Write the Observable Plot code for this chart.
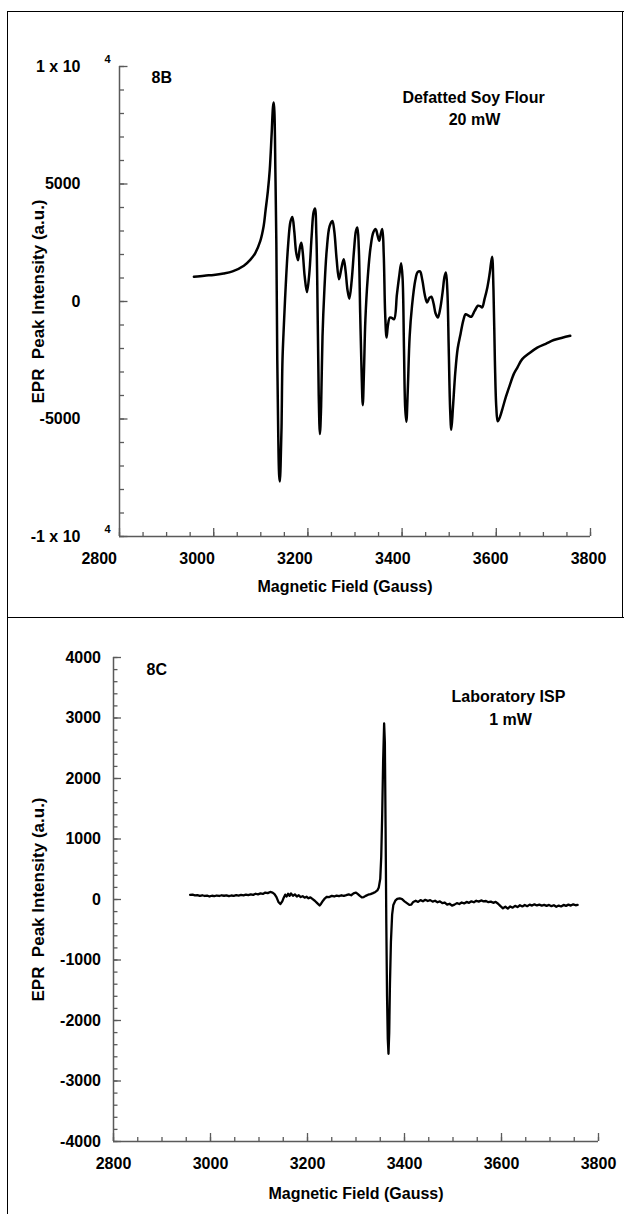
<!DOCTYPE html>
<html><head><meta charset="utf-8">
<script src="https://cdn.jsdelivr.net/npm/d3@7"></script>
<script src="https://cdn.jsdelivr.net/npm/@observablehq/plot@0.6"></script>
<style>
body{margin:0;background:#fff;}
#wrap{position:relative;width:624px;height:1214px;overflow:hidden;background:#fff;}
.line{position:absolute;background:#000;}
svg{position:absolute;left:0;}
</style></head><body><div id="wrap"></div>
<script>
// ---- Panel 8B: Defatted Soy Flour, 20 mW (field G, intensity a.u.)
const fieldB = [2958,2980,3000,3021,3040,3064,3078,3088,3099,3106,3110,3115,3119,3123,3126,3127.5,3129,3131,3133,3135,3137,3139,3140.5,3142,3144,3146,3149,3153,3158,3163,3167,3171,3175,3179,3183,3186,3189,3193,3198,3203,3208,3212,3215,3218,3221,3223,3225.5,3228,3231,3235,3240,3246,3252,3256,3261,3266,3271,3276,3280,3284,3288,3293,3298,3302,3305,3308,3311,3314,3316.5,3319,3322,3327,3333,3339,3344,3348,3351.5,3355,3358,3361,3364,3367,3370,3374,3378,3383,3389,3394,3398,3401,3404,3406.5,3409,3412,3416,3421,3428,3433,3438,3443,3448,3453,3458,3462,3467,3471,3476,3481,3486,3490,3493,3496,3499,3502,3504.5,3508,3513,3518,3524,3530,3535,3541,3547,3554,3561,3566,3570,3575,3581,3586,3591,3594,3597,3600,3603,3608,3614,3620,3628,3637,3645,3655,3670,3687,3705,3722,3740,3757];
const intensityB = [1050,1100,1130,1190,1280,1520,1780,2050,2580,3200,3860,4700,5600,7120,8300,8470,8000,5500,2500,-2500,-5600,-7400,-7660,-7000,-5360,-2520,-1000,700,2400,3400,3600,3000,2100,1760,2300,2500,2100,1100,400,1200,2800,3800,3960,2800,-1000,-4000,-5640,-4500,-1500,500,2200,3200,3430,3000,1800,950,1400,1800,1300,500,120,900,2200,3000,3150,2300,-500,-3000,-4410,-3000,-800,1000,2300,2950,3080,2800,2580,2900,3080,2000,-500,-1530,-1000,-680,-700,-750,300,1100,1630,1000,-2000,-4500,-5120,-3800,-1500,-200,900,1250,1280,900,300,-40,150,200,-100,-500,-680,-300,400,1050,1235,500,-2000,-4600,-5460,-4500,-3000,-2000,-1390,-800,-540,-600,-650,-400,-180,-200,-250,100,600,1200,1900,500,-2520,-4500,-5100,-4900,-4500,-4080,-3600,-3090,-2800,-2450,-2200,-1960,-1800,-1640,-1540,-1460];

// ---- Panel 8C: Laboratory ISP, 1 mW
const fieldC = [2958,2963,2968,2973,2978,2983,2988,2993,2998,3003,3008,3013,3018,3023,3028,3033,3038,3043,3048,3053,3058,3063,3068,3073,3078,3083,3088,3093,3098,3103,3108,3113,3118,3123,3128,3132,3136,3140,3144,3148,3151,3154,3157,3160,3163,3166,3170,3174,3178,3182,3186,3190,3194,3198,3202,3206,3210,3215,3220,3225,3228,3232,3236,3240,3245,3250,3255,3260,3265,3270,3275,3280,3285,3290,3295,3300,3304,3308,3312,3316,3320,3325,3330,3335,3340,3344,3347,3350,3352,3354,3356,3358,3359.5,3361,3362.5,3364,3365.5,3367,3368.5,3370,3372,3374.5,3377,3381,3385,3390,3395,3400,3405,3410,3414,3418,3423,3428,3433,3438,3443,3448,3453,3458,3463,3468,3473,3478,3483,3488,3493,3498,3503,3508,3513,3518,3523,3528,3533,3538,3543,3548,3553,3558,3563,3568,3573,3578,3583,3588,3593,3598,3603,3608,3613,3618,3623,3628,3633,3638,3643,3648,3653,3658,3663,3668,3673,3678,3683,3688,3693,3698,3703,3708,3713,3718,3723,3728,3733,3738,3743,3748,3753,3757];
const intensityC = [75,80,68,72,60,70,58,65,50,62,55,66,58,70,62,68,55,66,60,72,64,75,68,80,72,85,76,95,85,100,92,115,105,125,115,90,40,-40,-75,-30,30,80,50,95,60,100,60,85,50,70,40,55,30,45,20,35,10,-20,-60,-100,-70,-20,20,45,40,60,50,65,55,70,60,72,85,70,100,115,90,60,35,40,60,80,90,105,125,150,200,340,700,1400,2300,2910,2600,1200,-400,-1600,-2300,-2550,-2200,-1400,-700,-250,-90,-20,10,20,5,-30,-60,-90,-85,-40,-20,-40,-10,-30,-5,-25,-10,-35,-20,-45,-30,-60,-50,-85,-70,-100,-85,-60,-75,-50,-65,-40,-55,-30,-45,-20,-35,-15,-30,-25,-45,-35,-55,-40,-70,-110,-145,-120,-150,-115,-135,-105,-125,-95,-115,-90,-110,-85,-100,-80,-98,-85,-100,-88,-105,-90,-110,-95,-120,-100,-115,-90,-105,-85,-100,-80,-95,-90];

// ---- Ticks and labels
const xTickLabels = [2800, 3000, 3200, 3400, 3600, 3800];
const yTicksB = [10000, 5000, 0, -5000, -10000];
const yTickLabelsB = ["1 x 10", "5000", "0", "-5000", "-1 x 10"];
const yExpB = [10000, -10000];
const yTicksC = [4000, 3000, 2000, 1000, 0, -1000, -2000, -3000, -4000];
const yTickLabelsC = ["4000", "3000", "2000", "1000", "0", "-1000", "-2000", "-3000", "-4000"];
const xTitle = "Magnetic Field (Gauss)";
const yTitle = "EPR \u00a0Peak Intensity (a.u.)";

const tableB = fieldB.map((g, i) => ({G: g, I: intensityB[i]}));
const tableC = fieldC.map((g, i) => ({G: g, I: intensityC[i]}));

const FONT = "'Liberation Sans', Arial, Helvetica, sans-serif";
const fnt = {fontSize: 16, fontWeight: "bold", fill: "black"};
const note = {...fnt, frameAnchor: "top-left", lineAnchor: "middle"};
const yTitleStyle = {frameAnchor: "left", lineAnchor: "middle", textAnchor: "middle", rotate: -90, fontSize: 17, fontWeight: "bold", fill: "black"};
const gray = "#5a5a5a";
const tk = {stroke: gray, strokeWidth: 1.3, tickFormat: () => "", label: null};

const wrap = document.getElementById("wrap");
function hline(x, y, w, h) {
  const d = document.createElement("div");
  d.className = "line";
  Object.assign(d.style, {left: x + "px", top: y + "px", width: w + "px", height: h + "px"});
  wrap.appendChild(d);
}

// Panel 8B
const pB = Plot.plot({
  width: 624, height: 617,
  marginLeft: 119, marginRight: 34, marginTop: 66, marginBottom: 81,
  x: {domain: [2800, 3800]},
  y: {domain: [-10000, 10000]},
  style: {fontFamily: FONT, background: "transparent", overflow: "visible"},
  marks: [
    Plot.axisX(d3.range(2800, 3801, 50), {...tk, tickSize: -4}),
    Plot.axisX(d3.range(2800, 3801, 200), {...tk, tickSize: -8}),
    Plot.axisY(d3.range(-10000, 10001, 1000), {...tk, tickSize: -5}),
    Plot.axisY(d3.range(-10000, 10001, 5000), {...tk, tickSize: -8.5}),
    Plot.axisY(yTicksB, {tickSize: 0, tickPadding: 39, tickFormat: d => yTickLabelsB[yTicksB.indexOf(d)], label: null, ...fnt}),
    ...xTickLabels.map(v => Plot.axisX([v], {tickSize: 0, tickPadding: 16, dx: -20.3 + (v - 2800) * 0.0183, tickFormat: d => String(d), label: null, ...fnt})),
    Plot.text(yExpB, {y: d => d, text: () => "4", frameAnchor: "left", lineAnchor: "middle", dx: -15, dy: -7, fontSize: 11, fontWeight: "bold"}),
    Plot.ruleX([2800], {stroke: gray, strokeWidth: 1.5}),
    Plot.ruleY([-10000], {stroke: gray, strokeWidth: 1.5}),
    Plot.line(tableB, {x: "G", y: "I", stroke: "black", strokeWidth: 2.5, curve: "catmull-rom"}),
    Plot.text([xTitle], {frameAnchor: "bottom", lineAnchor: "middle", dy: 50, dx: -10, ...fnt}),
    Plot.text([yTitle], {...yTitleStyle, dx: -81}),
    Plot.text(["8B"], {...note, dx: 32, dy: 11, textAnchor: "start"}),
    Plot.text(["Defatted Soy Flour"], {...note, dx: 354, dy: 31, textAnchor: "middle"}),
    Plot.text(["20 mW"], {...note, dx: 355, dy: 53, textAnchor: "middle"})
  ]
});
pB.style.top = "0px";
wrap.appendChild(pB);

// Panel 8C
const pC = Plot.plot({
  width: 624, height: 597,
  marginLeft: 113, marginRight: 26, marginTop: 40, marginBottom: 73,
  x: {domain: [2800, 3800]},
  y: {domain: [-4000, 4000]},
  style: {fontFamily: FONT, background: "transparent", overflow: "visible"},
  marks: [
    Plot.axisX(d3.range(2800, 3801, 50), {...tk, tickSize: -4}),
    Plot.axisX(d3.range(2800, 3801, 200), {...tk, tickSize: -8}),
    Plot.axisY(d3.range(-4000, 4001, 200), {...tk, tickSize: -4.5}),
    Plot.axisY(d3.range(-4000, 4001, 1000), {...tk, tickSize: -8}),
    Plot.axisY(yTicksC, {tickSize: 0, tickPadding: 12.5, tickFormat: d => yTickLabelsC[yTicksC.indexOf(d)], label: null, ...fnt}),
    Plot.axisX(xTickLabels, {tickSize: 0, tickPadding: 16, tickFormat: d => String(d), label: null, ...fnt}),
    Plot.ruleX([2800], {stroke: gray, strokeWidth: 1.5}),
    Plot.ruleY([-4000], {stroke: gray, strokeWidth: 1.5}),
    Plot.line(tableC, {x: "G", y: "I", stroke: "black", strokeWidth: 2.3, curve: "linear"}),
    Plot.text([xTitle], {frameAnchor: "bottom", lineAnchor: "middle", dy: 52, ...fnt}),
    Plot.text([yTitle], {...yTitleStyle, dx: -75}),
    Plot.text(["8C"], {...note, dx: 33, dy: 12, textAnchor: "start"}),
    Plot.text(["Laboratory ISP"], {...note, dx: 395, dy: 39, textAnchor: "middle"}),
    Plot.text(["1 mW"], {...note, dx: 397, dy: 62, textAnchor: "middle"})
  ]
});
pC.style.top = "617px";
wrap.appendChild(pC);

// Figure borders
hline(6.5, 10.5, 618, 1.5);
hline(6.5, 10.5, 1.5, 1204);
hline(6.5, 616.5, 618, 1.5);
hline(621.5, 10.5, 1.5, 607);
</script></body></html>
